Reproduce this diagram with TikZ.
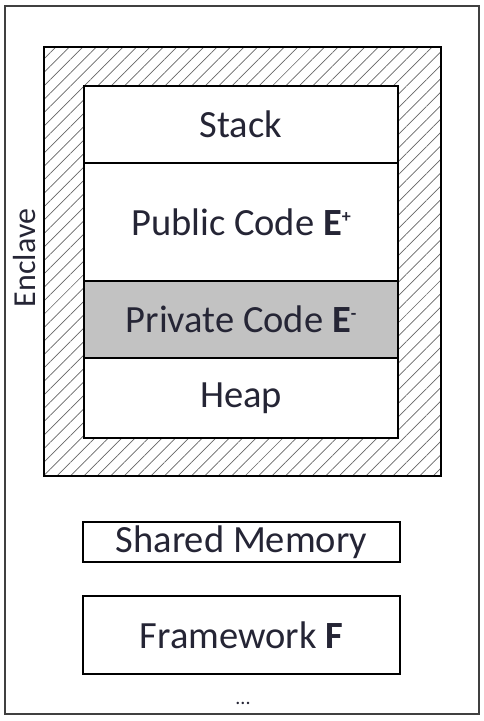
\documentclass[tikz,border=0pt]{standalone}
\usepackage{fontspec}
\setmainfont{Carlito}
\usetikzlibrary{patterns.meta}
\definecolor{txt}{HTML}{252535}
\definecolor{privfill}{HTML}{C2C2C2}
\newcommand{\supsm}[1]{\raisebox{13pt}{\fontsize{18}{18}\selectfont\bfseries #1}}
\begin{document}
\begin{tikzpicture}[x=1pt,y=-1pt,
  every node/.style={font=\fontsize{38.5}{40}\selectfont, text=txt, inner sep=0pt},
  box/.style={draw=black, line width=1.6pt, fill=white, rectangle},
]
\useasboundingbox (0,0) rectangle (483,721);
% outer frame
\node[draw=black!75, line width=1.8pt, minimum width=474pt, minimum height=708pt] (outer) at (242,360) {};
% hatched enclave border
\node[draw=black, line width=1.8pt,
  pattern={Lines[angle=45,distance=9.5pt,line width=0.7pt]}, pattern color=black!60,
  minimum width=397pt, minimum height=429pt] (enclave) at (242.5,261.5) {};
% enclave components
\node[box, minimum width=314pt, minimum height=77pt] (stack) at (241,124.5) {Stack};
\node[box, minimum width=314pt, minimum height=118pt] (public) at (241,222) {Public Code \textbf{E}\supsm{+}};
\node[box, fill=privfill, minimum width=314pt, minimum height=77pt] (private) at (241,319.5) {Private Code \textbf{E}\supsm{-}};
\node[box, minimum width=314pt, minimum height=80pt] (heap) at (241,398) {Heap};
% enclave label
\node[rotate=90, font=\fontsize{32}{34}\selectfont] (enclavelabel) at (25,258) {Enclave};
% shared memory and framework
\node[box, minimum width=317pt, minimum height=40pt] (shared) at (241.5,542) {Shared Memory};
\node[box, minimum width=317pt, minimum height=78pt] (framework) at (241.5,635) {Framework \textbf{F}};
\node[font=\fontsize{20}{22}\selectfont] (dots) at (243,703) {...};
\end{tikzpicture}
\end{document}
